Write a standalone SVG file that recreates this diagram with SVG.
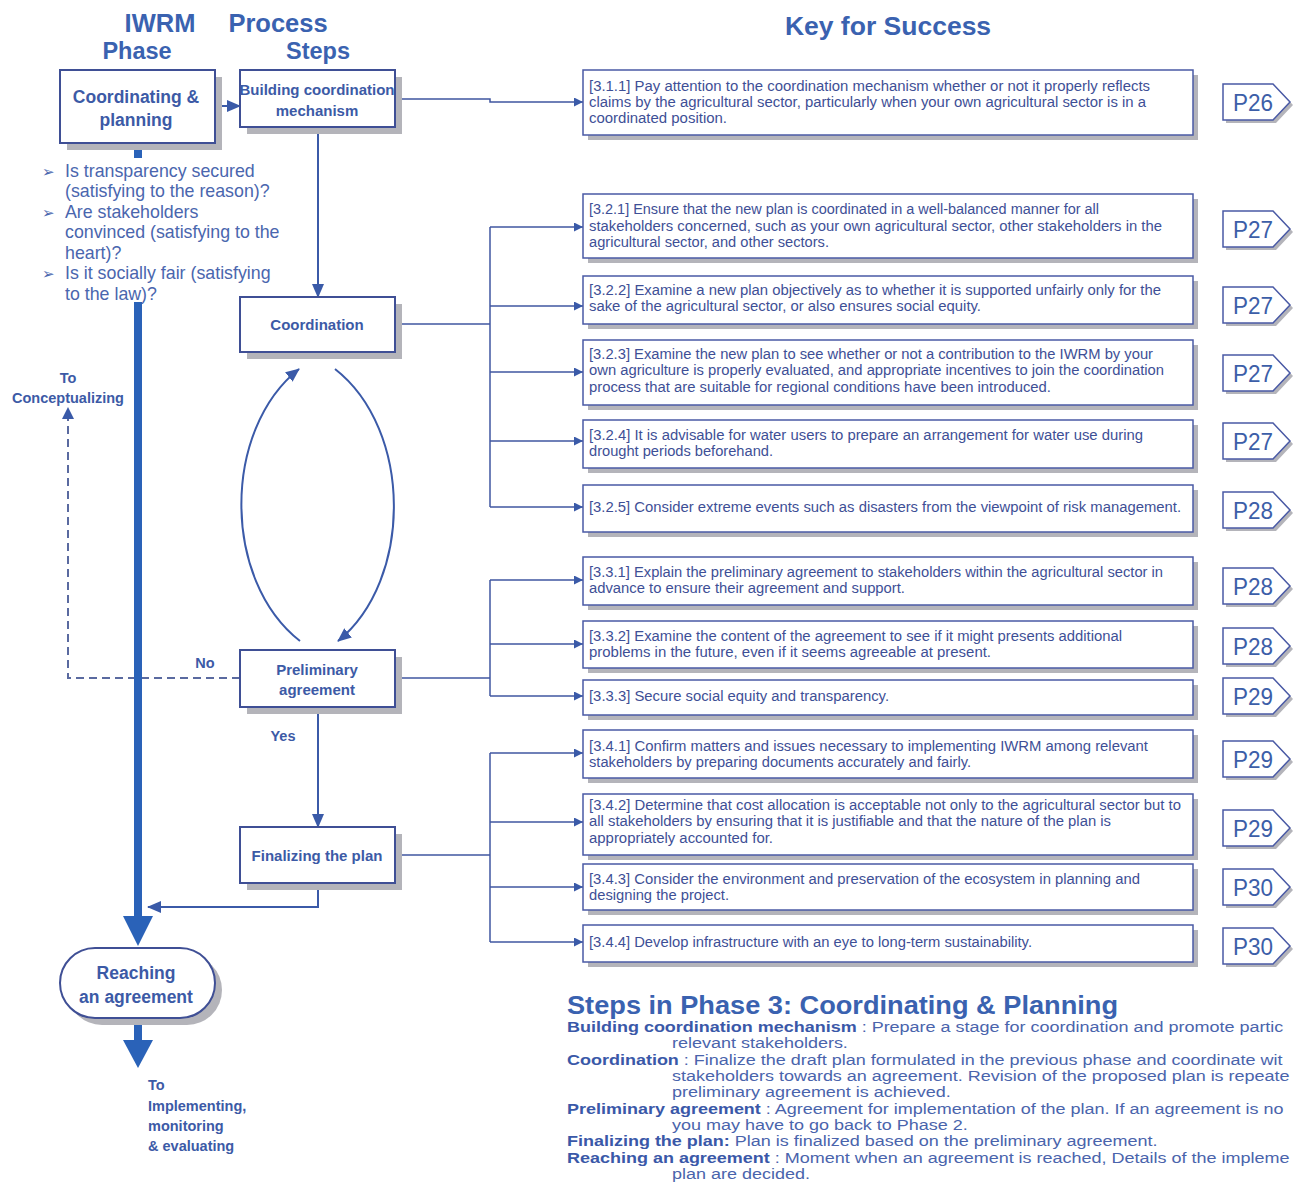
<svg xmlns="http://www.w3.org/2000/svg" width="1295" height="1184" viewBox="0 0 1295 1184">
<style>
.hdr{font-family:"Liberation Sans",Arial,sans-serif;font-weight:bold;fill:#3a62b0}
.nt{font-family:"Liberation Sans",Arial,sans-serif;font-weight:bold;fill:#3c5aa6;text-anchor:middle}
.q{font-family:"Liberation Sans",Arial,sans-serif;font-size:17.8px;fill:#4a66ae}
.bul{font-family:"DejaVu Sans",sans-serif;font-size:15px;fill:#4a66ae}
.lbl{font-family:"Liberation Sans",Arial,sans-serif;font-weight:bold;font-size:14.5px;fill:#3c5aa6}
.kt{font-family:"Liberation Sans",Arial,sans-serif;font-size:14px;fill:#3e4f96}
.pt{font-family:"Liberation Sans",Arial,sans-serif;font-size:24px;fill:#3c5ea8}
.node{fill:#ffffff;stroke:#3f4f95;stroke-width:2}
.shadow{fill:#b4b4ba}
.kbox{fill:#ffffff;stroke:#4a5aa5;stroke-width:1.5}
.badge{fill:#ffffff;stroke:#4a5aa5;stroke-width:1.5}
.ln{fill:none;stroke:#3f56a0;stroke-width:1.5}
.fl{fill:none;stroke:#3b5aa8;stroke-width:2}
.thick{fill:#2a62b8}
.bt{font-family:"Liberation Sans",Arial,sans-serif;font-size:15px;fill:#4a64ac}
.bb{font-weight:bold;fill:#3a58a8}
</style>
<defs>
<marker id="as" markerUnits="userSpaceOnUse" markerWidth="9" markerHeight="9" refX="9" refY="4.5" orient="auto"><path d="M0,0 L9,4.5 L0,9 z" fill="#3a5aa8"/></marker>
<marker id="am" markerUnits="userSpaceOnUse" markerWidth="14" markerHeight="12" refX="13" refY="6" orient="auto"><path d="M0,0 L14,6 L0,12 z" fill="#3a5aa8"/></marker>
<marker id="ad" markerUnits="userSpaceOnUse" markerWidth="12" markerHeight="12" refX="11" refY="6" orient="auto"><path d="M0,0 L12,6 L0,12 z" fill="#3a5aa8"/></marker>
</defs>

<!-- headers -->
<text class="hdr" x="160" y="32" font-size="25.5" text-anchor="middle">IWRM</text>
<text class="hdr" x="137" y="59" font-size="23.5" text-anchor="middle">Phase</text>
<text class="hdr" x="278" y="32" font-size="25.5" text-anchor="middle">Process</text>
<text class="hdr" x="318" y="59" font-size="23.5" text-anchor="middle">Steps</text>
<text class="hdr" x="888" y="35" font-size="26.5" text-anchor="middle">Key for Success</text>

<!-- connectors -->
<g id="connectors">
<path class="fl" d="M215,106 H240" marker-end="url(#am)"/>
<path class="fl" d="M318,127 V297" marker-end="url(#am)"/>
<path class="fl" d="M300,641 C222,580 222,430 299,369" marker-end="url(#am)"/>
<path class="fl" d="M335,369 C413,430 413,580 338,641" marker-end="url(#am)"/>
<path d="M240,678 H68 V408" fill="none" stroke="#5a6aa0" stroke-width="2" stroke-dasharray="8,5" marker-end="url(#ad)"/>
<path class="fl" d="M318,707 V827" marker-end="url(#am)"/>
<path class="fl" d="M318,883 V907 H148" marker-end="url(#am)"/>
<rect class="thick" x="134" y="143" width="8" height="15"/>
<rect class="thick" x="134" y="302" width="8" height="618"/>
<polygon class="thick" points="123,916 153,916 138,946"/>
<rect class="thick" x="134" y="1018" width="8" height="24"/>
<polygon class="thick" points="123,1040 153,1040 138,1068"/>
<!-- key branches -->
<path class="ln" d="M395,99 H490 V102 H583" marker-end="url(#as)"/>
<path class="ln" d="M395,324 H490"/>
<path class="ln" d="M490,227 V507"/>
<path class="ln" d="M490,227 H583" marker-end="url(#as)"/>
<path class="ln" d="M490,306 H583" marker-end="url(#as)"/>
<path class="ln" d="M490,372 H583" marker-end="url(#as)"/>
<path class="ln" d="M490,441 H583" marker-end="url(#as)"/>
<path class="ln" d="M490,507 H583" marker-end="url(#as)"/>
<path class="ln" d="M395,678 H490"/>
<path class="ln" d="M490,580 V696"/>
<path class="ln" d="M490,580 H583" marker-end="url(#as)"/>
<path class="ln" d="M490,644 H583" marker-end="url(#as)"/>
<path class="ln" d="M490,696 H583" marker-end="url(#as)"/>
<path class="ln" d="M395,855 H490"/>
<path class="ln" d="M490,753 V942"/>
<path class="ln" d="M490,753 H583" marker-end="url(#as)"/>
<path class="ln" d="M490,822 H583" marker-end="url(#as)"/>
<path class="ln" d="M490,887 H583" marker-end="url(#as)"/>
<path class="ln" d="M490,942 H583" marker-end="url(#as)"/>
</g>

<!-- flow labels -->
<text class="lbl" x="68" y="383" text-anchor="middle">To</text>
<text class="lbl" x="68" y="403" text-anchor="middle">Conceptualizing</text>
<text class="lbl" x="205" y="668" text-anchor="middle" font-size="15">No</text>
<text class="lbl" x="283" y="741" text-anchor="middle" font-size="15">Yes</text>
<text class="lbl" x="148" y="1090">To</text>
<text class="lbl" x="148" y="1111">Implementing,</text>
<text class="lbl" x="148" y="1131">monitoring</text>
<text class="lbl" x="148" y="1151">&amp; evaluating</text>

<!-- questions -->
<g id="questions">
<text class="bul" x="42" y="177">➢</text>
<text class="bul" x="42" y="218">➢</text>
<text class="bul" x="42" y="279">➢</text>
<text class="q" x="65" y="177">Is transparency secured</text>
<text class="q" x="65" y="197">(satisfying to the reason)?</text>
<text class="q" x="65" y="218">Are stakeholders</text>
<text class="q" x="65" y="238">convinced (satisfying to the</text>
<text class="q" x="65" y="259">heart)?</text>
<text class="q" x="65" y="279">Is it socially fair (satisfying</text>
<text class="q" x="65" y="300">to the law)?</text>
</g>

<!-- process nodes -->
<g id="node-coordinating-planning">
<rect class="shadow" x="67" y="77" width="155" height="73"/>
<rect class="node" x="60" y="70" width="155" height="73"/>
<text class="nt" x="136" y="103" font-size="17.5">Coordinating &amp;</text>
<text class="nt" x="136" y="126" font-size="17.5">planning</text>
</g>
<g id="node-building">
<rect class="shadow" x="247" y="77" width="155" height="57"/>
<rect class="node" x="240" y="70" width="155" height="57"/>
<text class="nt" x="317" y="95" font-size="15">Building coordination</text>
<text class="nt" x="317" y="116" font-size="15">mechanism</text>
</g>
<g id="node-coordination">
<rect class="shadow" x="247" y="304" width="155" height="55"/>
<rect class="node" x="240" y="297" width="155" height="55"/>
<text class="nt" x="317" y="330" font-size="15">Coordination</text>
</g>
<g id="node-preliminary">
<rect class="shadow" x="247" y="657" width="155" height="57"/>
<rect class="node" x="240" y="650" width="155" height="57"/>
<text class="nt" x="317" y="675" font-size="15">Preliminary</text>
<text class="nt" x="317" y="695" font-size="15">agreement</text>
</g>
<g id="node-finalizing">
<rect class="shadow" x="247" y="834" width="155" height="56"/>
<rect class="node" x="240" y="827" width="155" height="56"/>
<text class="nt" x="317" y="861" font-size="15">Finalizing the plan</text>
</g>
<g id="node-reaching">
<rect class="shadow" x="67" y="955" width="155" height="70" rx="35"/>
<rect class="node" x="60" y="948" width="155" height="70" rx="35"/>
<text class="nt" x="136" y="979" font-size="17.5">Reaching</text>
<text class="nt" x="136" y="1003" font-size="17.5">an agreement</text>
</g>

<!-- key boxes -->
<g id="key-3-1-1">
<rect class="shadow" x="588" y="75" width="610" height="65"/>
<rect class="kbox" x="583" y="70" width="610" height="65"/>
<text class="kt" x="589" y="91" textLength="561" lengthAdjust="spacingAndGlyphs">[3.1.1] Pay attention to the coordination mechanism whether or not it properly reflects</text>
<text class="kt" x="589" y="107" textLength="557" lengthAdjust="spacingAndGlyphs">claims by the agricultural sector, particularly when your own agricultural sector is in a</text>
<text class="kt" x="589" y="123" textLength="138" lengthAdjust="spacingAndGlyphs">coordinated position.</text>
</g>
<g id="key-3-2-1">
<rect class="shadow" x="588" y="199" width="610" height="64"/>
<rect class="kbox" x="583" y="194" width="610" height="64"/>
<text class="kt" x="589" y="214" textLength="510" lengthAdjust="spacingAndGlyphs">[3.2.1] Ensure that the new plan is coordinated in a well-balanced manner for all</text>
<text class="kt" x="589" y="231" textLength="573" lengthAdjust="spacingAndGlyphs">stakeholders concerned, such as your own agricultural sector, other stakeholders in the</text>
<text class="kt" x="589" y="247" textLength="240" lengthAdjust="spacingAndGlyphs">agricultural sector, and other sectors.</text>
</g>
<g id="key-3-2-2">
<rect class="shadow" x="588" y="281" width="610" height="48"/>
<rect class="kbox" x="583" y="276" width="610" height="48"/>
<text class="kt" x="589" y="295" textLength="572" lengthAdjust="spacingAndGlyphs">[3.2.2] Examine a new plan objectively as to whether it is supported unfairly only for the</text>
<text class="kt" x="589" y="311" textLength="392" lengthAdjust="spacingAndGlyphs">sake of the agricultural sector, or also ensures social equity.</text>
</g>
<g id="key-3-2-3">
<rect class="shadow" x="588" y="345" width="610" height="65"/>
<rect class="kbox" x="583" y="340" width="610" height="65"/>
<text class="kt" x="589" y="359" textLength="564" lengthAdjust="spacingAndGlyphs">[3.2.3] Examine the new plan to see whether or not a contribution to the IWRM by your</text>
<text class="kt" x="589" y="375" textLength="575" lengthAdjust="spacingAndGlyphs">own agriculture is properly evaluated, and appropriate incentives to join the coordination</text>
<text class="kt" x="589" y="392" textLength="462" lengthAdjust="spacingAndGlyphs">process that are suitable for regional conditions have been introduced.</text>
</g>
<g id="key-3-2-4">
<rect class="shadow" x="588" y="425" width="610" height="48"/>
<rect class="kbox" x="583" y="420" width="610" height="48"/>
<text class="kt" x="589" y="440" textLength="554" lengthAdjust="spacingAndGlyphs">[3.2.4] It is advisable for water users to prepare an arrangement for water use during</text>
<text class="kt" x="589" y="456" textLength="184" lengthAdjust="spacingAndGlyphs">drought periods beforehand.</text>
</g>
<g id="key-3-2-5">
<rect class="shadow" x="588" y="490" width="610" height="47"/>
<rect class="kbox" x="583" y="485" width="610" height="47"/>
<text class="kt" x="589" y="512" textLength="592" lengthAdjust="spacingAndGlyphs">[3.2.5] Consider extreme events such as disasters from the viewpoint of risk management.</text>
</g>
<g id="key-3-3-1">
<rect class="shadow" x="588" y="562" width="610" height="48"/>
<rect class="kbox" x="583" y="557" width="610" height="48"/>
<text class="kt" x="589" y="577" textLength="574" lengthAdjust="spacingAndGlyphs">[3.3.1] Explain the preliminary agreement to stakeholders within the agricultural sector in</text>
<text class="kt" x="589" y="593" textLength="316" lengthAdjust="spacingAndGlyphs">advance to ensure their agreement and support.</text>
</g>
<g id="key-3-3-2">
<rect class="shadow" x="588" y="626" width="610" height="47"/>
<rect class="kbox" x="583" y="621" width="610" height="47"/>
<text class="kt" x="589" y="641" textLength="533" lengthAdjust="spacingAndGlyphs">[3.3.2] Examine the content of the agreement to see if it might presents additional</text>
<text class="kt" x="589" y="657" textLength="402" lengthAdjust="spacingAndGlyphs">problems in the future, even if it seems agreeable at present.</text>
</g>
<g id="key-3-3-3">
<rect class="shadow" x="588" y="685" width="610" height="35"/>
<rect class="kbox" x="583" y="680" width="610" height="35"/>
<text class="kt" x="589" y="701" textLength="300" lengthAdjust="spacingAndGlyphs">[3.3.3] Secure social equity and transparency.</text>
</g>
<g id="key-3-4-1">
<rect class="shadow" x="588" y="735" width="610" height="48"/>
<rect class="kbox" x="583" y="730" width="610" height="48"/>
<text class="kt" x="589" y="751" textLength="559" lengthAdjust="spacingAndGlyphs">[3.4.1] Confirm matters and issues necessary to implementing IWRM among relevant</text>
<text class="kt" x="589" y="767" textLength="382" lengthAdjust="spacingAndGlyphs">stakeholders by preparing documents accurately and fairly.</text>
</g>
<g id="key-3-4-2">
<rect class="shadow" x="588" y="799" width="610" height="61"/>
<rect class="kbox" x="583" y="794" width="610" height="61"/>
<text class="kt" x="589" y="810" textLength="592" lengthAdjust="spacingAndGlyphs">[3.4.2] Determine that cost allocation is acceptable not only to the agricultural sector but to</text>
<text class="kt" x="589" y="826" textLength="522" lengthAdjust="spacingAndGlyphs">all stakeholders by ensuring that it is justifiable and that the nature of the plan is</text>
<text class="kt" x="589" y="843" textLength="184" lengthAdjust="spacingAndGlyphs">appropriately accounted for.</text>
</g>
<g id="key-3-4-3">
<rect class="shadow" x="588" y="869" width="610" height="46"/>
<rect class="kbox" x="583" y="864" width="610" height="46"/>
<text class="kt" x="589" y="884" textLength="551" lengthAdjust="spacingAndGlyphs">[3.4.3] Consider the environment and preservation of the ecosystem in planning and</text>
<text class="kt" x="589" y="900" textLength="140" lengthAdjust="spacingAndGlyphs">designing the project.</text>
</g>
<g id="key-3-4-4">
<rect class="shadow" x="588" y="930" width="610" height="37"/>
<rect class="kbox" x="583" y="925" width="610" height="37"/>
<text class="kt" x="589" y="947" textLength="443" lengthAdjust="spacingAndGlyphs">[3.4.4] Develop infrastructure with an eye to long-term sustainability.</text>
</g>

<!-- page badges -->
<g id="badges">
<g id="badge-p26"><path class="shadow" d="M1226,87 H1276 L1293,105 L1276,123 H1226 Z"/><path class="badge" d="M1223,84 H1273 L1290,102 L1273,120 H1223 Z"/><text class="pt" x="1233" y="111" textLength="40" lengthAdjust="spacingAndGlyphs">P26</text></g>
<g id="badge-p27a"><path class="shadow" d="M1226,214 H1276 L1293,232 L1276,250 H1226 Z"/><path class="badge" d="M1223,211 H1273 L1290,229 L1273,247 H1223 Z"/><text class="pt" x="1233" y="238" textLength="40" lengthAdjust="spacingAndGlyphs">P27</text></g>
<g id="badge-p27b"><path class="shadow" d="M1226,290 H1276 L1293,308 L1276,326 H1226 Z"/><path class="badge" d="M1223,287 H1273 L1290,305 L1273,323 H1223 Z"/><text class="pt" x="1233" y="314" textLength="40" lengthAdjust="spacingAndGlyphs">P27</text></g>
<g id="badge-p27c"><path class="shadow" d="M1226,358 H1276 L1293,376 L1276,394 H1226 Z"/><path class="badge" d="M1223,355 H1273 L1290,373 L1273,391 H1223 Z"/><text class="pt" x="1233" y="382" textLength="40" lengthAdjust="spacingAndGlyphs">P27</text></g>
<g id="badge-p27d"><path class="shadow" d="M1226,426 H1276 L1293,444 L1276,462 H1226 Z"/><path class="badge" d="M1223,423 H1273 L1290,441 L1273,459 H1223 Z"/><text class="pt" x="1233" y="450" textLength="40" lengthAdjust="spacingAndGlyphs">P27</text></g>
<g id="badge-p28a"><path class="shadow" d="M1226,495 H1276 L1293,513 L1276,531 H1226 Z"/><path class="badge" d="M1223,492 H1273 L1290,510 L1273,528 H1223 Z"/><text class="pt" x="1233" y="519" textLength="40" lengthAdjust="spacingAndGlyphs">P28</text></g>
<g id="badge-p28b"><path class="shadow" d="M1226,571 H1276 L1293,589 L1276,607 H1226 Z"/><path class="badge" d="M1223,568 H1273 L1290,586 L1273,604 H1223 Z"/><text class="pt" x="1233" y="595" textLength="40" lengthAdjust="spacingAndGlyphs">P28</text></g>
<g id="badge-p28c"><path class="shadow" d="M1226,631 H1276 L1293,649 L1276,667 H1226 Z"/><path class="badge" d="M1223,628 H1273 L1290,646 L1273,664 H1223 Z"/><text class="pt" x="1233" y="655" textLength="40" lengthAdjust="spacingAndGlyphs">P28</text></g>
<g id="badge-p29a"><path class="shadow" d="M1226,681 H1276 L1293,699 L1276,717 H1226 Z"/><path class="badge" d="M1223,678 H1273 L1290,696 L1273,714 H1223 Z"/><text class="pt" x="1233" y="705" textLength="40" lengthAdjust="spacingAndGlyphs">P29</text></g>
<g id="badge-p29b"><path class="shadow" d="M1226,744 H1276 L1293,762 L1276,780 H1226 Z"/><path class="badge" d="M1223,741 H1273 L1290,759 L1273,777 H1223 Z"/><text class="pt" x="1233" y="768" textLength="40" lengthAdjust="spacingAndGlyphs">P29</text></g>
<g id="badge-p29c"><path class="shadow" d="M1226,813 H1276 L1293,831 L1276,849 H1226 Z"/><path class="badge" d="M1223,810 H1273 L1290,828 L1273,846 H1223 Z"/><text class="pt" x="1233" y="837" textLength="40" lengthAdjust="spacingAndGlyphs">P29</text></g>
<g id="badge-p30a"><path class="shadow" d="M1226,872 H1276 L1293,890 L1276,908 H1226 Z"/><path class="badge" d="M1223,869 H1273 L1290,887 L1273,905 H1223 Z"/><text class="pt" x="1233" y="896" textLength="40" lengthAdjust="spacingAndGlyphs">P30</text></g>
<g id="badge-p30b"><path class="shadow" d="M1226,931 H1276 L1293,949 L1276,967 H1226 Z"/><path class="badge" d="M1223,928 H1273 L1290,946 L1273,964 H1223 Z"/><text class="pt" x="1233" y="955" textLength="40" lengthAdjust="spacingAndGlyphs">P30</text></g>
</g>

<!-- bottom description -->
<g id="steps-description">
<text class="hdr" x="567" y="1014" font-size="26" fill="#2f5fae" textLength="551" lengthAdjust="spacingAndGlyphs">Steps in Phase 3: Coordinating &amp; Planning</text>
<g transform="translate(567,0) scale(1.2,1)">
<text class="bt" x="0" y="1032"><tspan class="bb">Building coordination mechanism</tspan> :  Prepare a stage for coordination and promote partic</text>
<text class="bt" x="87.5" y="1048">relevant stakeholders.</text>
<text class="bt" x="0" y="1065"><tspan class="bb">Coordination</tspan> :  Finalize the draft plan formulated in the previous phase and coordinate wit</text>
<text class="bt" x="87.5" y="1081">stakeholders towards an agreement. Revision of the proposed plan is repeate</text>
<text class="bt" x="87.5" y="1097">preliminary agreement is achieved.</text>
<text class="bt" x="0" y="1114"><tspan class="bb">Preliminary agreement</tspan> :  Agreement for implementation of the plan. If an agreement is no</text>
<text class="bt" x="87.5" y="1130">you may have to go back to Phase 2.</text>
<text class="bt" x="0" y="1146"><tspan class="bb">Finalizing the plan:</tspan>  Plan is finalized based on the preliminary agreement.</text>
<text class="bt" x="0" y="1163"><tspan class="bb">Reaching an agreement</tspan> :  Moment when an agreement is reached, Details of the impleme</text>
<text class="bt" x="87.5" y="1179">plan are decided.</text>
</g>
</g>
</svg>
